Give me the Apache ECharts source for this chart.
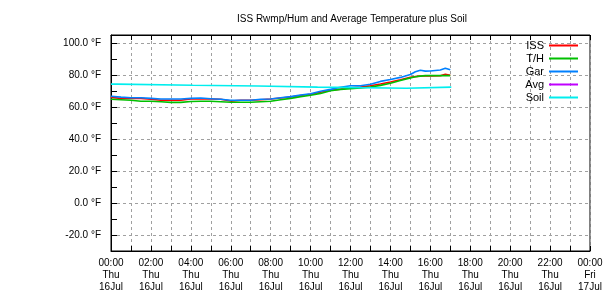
<!DOCTYPE html>
<html>
<head>
<meta charset="utf-8">
<script src="https://cdn.jsdelivr.net/npm/echarts@6/dist/echarts.min.js"></script>
<style>html,body{margin:0;padding:0;background:#fff}#c{width:610px;height:300px}</style>
</head>
<body>
<div id="c"></div>
<script>
var titleText = 'ISS Rwmp/Hum and Average Temperature plus Soil';
var seriesNames = ['ISS', 'T/H', 'Gar', 'Avg', 'Soil'];
var seriesColors = ['#ff0000', '#00c000', '#0080ff', '#c000ff', '#00eeee'];
var xTickLabels = ['00:00\nThu\n16Jul','02:00\nThu\n16Jul','04:00\nThu\n16Jul','06:00\nThu\n16Jul','08:00\nThu\n16Jul','10:00\nThu\n16Jul','12:00\nThu\n16Jul','14:00\nThu\n16Jul','16:00\nThu\n16Jul','18:00\nThu\n16Jul','20:00\nThu\n16Jul','22:00\nThu\n16Jul','00:00\nFri\n17Jul'];

// hours since 00:00 Thu 16 Jul
var hours = [0,0.5,1,1.5,2,2.5,3,3.5,4,4.5,5,5.5,6,6.5,7,7.5,8,8.5,9,9.5,10,10.5,11,11.5,12,12.5,13,13.5,14,14.5,15,15.25,15.5,15.75,16,16.5,16.75,17];
var issTemp = [66,65.4,65.4,65.4,64.8,64.2,64.2,64.2,65,65,65,64.8,63.7,64.2,64.2,64.5,65,65.6,66.2,67.2,68,69.2,70.5,71.2,72,72.4,73.3,74.4,75.6,77,78.6,79,79.4,79.4,79.4,79.5,80.4,79.8];
var thTemp = [64.8,64.5,64.2,63.6,63.6,63.3,62.9,62.9,63.4,63.6,63.6,63.3,63,63,63,63.3,63.6,64.5,65.4,66.5,67.3,68.5,70.2,71,71.5,71.9,72.5,73.5,74.8,76.5,78.2,78.9,79.3,79.6,79.6,79.6,79.6,79.6];
var garTemp = [66.7,66.2,65.8,65.8,65.4,65,65,65,65.4,65.6,65.2,64.8,64.2,64.2,64.2,64.8,65,65.8,66.5,67.5,68.3,69.8,71,72.3,73.3,73.3,74.2,76,77.2,78.5,80.3,82,83,82.4,82.5,83.1,84.2,83.3];
var avgTemp = [];
var soilHours = [0,0.3,4.1,7.35,10.35,14.8,17.05];
var soilTemp = [74.3,73.6,73.1,72.4,71.7,72.4,72.4];

function pairs(xs, ys){ var out=[]; for (var i=0;i<ys.length;i++) out.push([xs[i], ys[i]]); return out; }

var font = 'Liberation Sans';
var chart = echarts.init(document.getElementById('c'), null, {renderer:'canvas'});
var dash = {color:'#a0a0a0', type:[3,3], width:1};
chart.setOption({
  animation:false,
  backgroundColor:'#fff',
  title:{text:titleText, left:232, top:9, textStyle:{fontFamily:font, fontSize:10, fontWeight:'normal', color:'#000'}},
  legend:{
    orient:'vertical', right:27, top:35, align:'right', itemGap:2,
    itemWidth:29, itemHeight:2, icon:'rect',
    textStyle:{fontFamily:font, fontSize:11, color:'#000'},
    data:seriesNames
  },
  grid:{left:111, right:20, top:35, bottom:49, show:true, borderColor:'#000', borderWidth:1, containLabel:false},
  xAxis:[{
    type:'value', min:0, max:24, interval:1,
    axisLine:{show:true, onZero:false, lineStyle:{color:'#000'}},
    axisTick:{show:true, inside:true, length:5, lineStyle:{color:'#000'}},
    axisLabel:{margin:6, fontFamily:font, fontSize:10, color:'#000', lineHeight:12, align:'center',
      formatter:function(v){ return (v % 2 === 0) ? xTickLabels[v/2] : ''; }},
    splitLine:{show:true, lineStyle:dash}
  },{
    type:'value', position:'top', min:0, max:24, interval:1,
    axisLine:{show:true, onZero:false, lineStyle:{color:'#000'}},
    axisTick:{show:true, inside:true, length:5, lineStyle:{color:'#000'}},
    axisLabel:{show:false}, splitLine:{show:false}
  }],
  yAxis:{
    type:'value', min:-30, max:105, interval:10,
    axisLine:{show:true, onZero:false, lineStyle:{color:'#000'}},
    axisTick:{show:true, inside:true, length:6, lineStyle:{color:'#000'}},
    axisLabel:{margin:10, fontFamily:font, fontSize:10, color:'#000',
      formatter:function(v){ return (v % 20 === 0 && v >= -20 && v <= 100) ? v.toFixed(1) + ' °F' : ''; }},
    splitLine:{show:true, showMinLine:false, showMaxLine:false, lineStyle:{color:['#a0a0a0','rgba(0,0,0,0)'], type:[3,3], width:1}}
  },
  series:[
    {name:seriesNames[0], type:'line', symbol:'none', data:pairs(hours, issTemp), color:seriesColors[0], lineStyle:{width:1.6, color:seriesColors[0]}},
    {name:seriesNames[1], type:'line', symbol:'none', data:pairs(hours, thTemp), color:seriesColors[1], lineStyle:{width:1.6, color:seriesColors[1]}},
    {name:seriesNames[2], type:'line', symbol:'none', data:pairs(hours, garTemp), color:seriesColors[2], lineStyle:{width:1.6, color:seriesColors[2]}},
    {name:seriesNames[3], type:'line', symbol:'none', data:pairs(hours, avgTemp), color:seriesColors[3], lineStyle:{width:1.6, color:seriesColors[3]}},
    {name:seriesNames[4], type:'line', symbol:'none', step:'end', data:pairs(soilHours, soilTemp), color:seriesColors[4], lineStyle:{width:1.6, color:seriesColors[4]}}
  ]
});
</script>
</body>
</html>
